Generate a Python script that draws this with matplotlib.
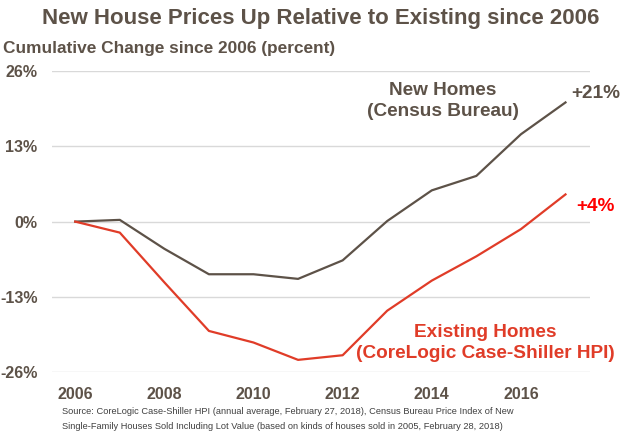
import matplotlib.pyplot as plt

years = list(range(2006, 2018))
new_homes = [0, 0.3, -4.7, -9.1, -9.1, -9.9, -6.7, 0.1, 5.4, 7.9, 15.1, 20.6]
existing_homes = [0, -1.9, -10.5, -18.9, -20.9, -23.9, -23.1, -15.4, -10.2, -6.0, -1.3, 4.7]

y_ticks = [-26, -13, 0, 13, 26]
y_tick_labels = ["-26%", "-13%", "0%", "13%", "26%"]
x_ticks = [2006, 2008, 2010, 2012, 2014, 2016]

BROWN = "#5d5248"
RED = "#e03c28"

plt.rcParams['font.family'] = ['Liberation Sans', 'DejaVu Sans']

fig = plt.figure(figsize=(6.27, 4.45), dpi=100)
ax = fig.add_axes([0.083, 0.164, 0.858, 0.676])

ax.plot(years, new_homes, color=BROWN, lw=1.6, clip_on=False)
ax.plot(years, existing_homes, color=RED, lw=1.6, clip_on=False)

ax.set_ylim(-26, 26)
ax.set_xlim(2005.48, 2017.55)
ax.set_yticks(y_ticks)
ax.set_yticklabels(y_tick_labels)
ax.set_xticks(x_ticks)
ax.grid(axis='y', color='#d9d9d9', lw=1)
ax.set_axisbelow(True)
for s in ax.spines.values():
    s.set_visible(False)
ax.tick_params(length=0, labelsize=11.5, colors=BROWN)
ax.tick_params(axis='x', pad=10.5)
ax.tick_params(axis='y', pad=10.5)
for lbl in ax.get_xticklabels() + ax.get_yticklabels():
    lbl.set_fontweight('bold')

# annotations
ax.text(2014.25, 20.8, "New Homes\n(Census Bureau)", color=BROWN, fontsize=13.7,
        fontweight='bold', ha='center', va='center', linespacing=1.3)
ax.text(2017.12, 22.1, "+21%", color=BROWN, fontsize=13.7, fontweight='bold',
        ha='left', va='center')
ax.text(2017.25, 2.6, "+4%", color='#ff0000', fontsize=13.7, fontweight='bold',
        ha='left', va='center')
ax.text(2015.21, -20.95, "Existing Homes\n(CoreLogic Case-Shiller HPI)", color=RED,
        fontsize=13.7, fontweight='bold', ha='center', va='center', linespacing=1.3)

fig.text(0.512, 0.958, "New House Prices Up Relative to Existing since 2006",
         color=BROWN, fontsize=16, fontweight='bold', ha='center', va='center')
fig.text(0.005, 0.892, "Cumulative Change since 2006 (percent)",
         color=BROWN, fontsize=12.4, fontweight='bold', ha='left', va='center')
fig.text(0.099, 0.058,
         "Source: CoreLogic Case-Shiller HPI (annual average, February 27, 2018), Census Bureau Price Index of New\n"
         "Single-Family Houses Sold Including Lot Value (based on kinds of houses sold in 2005, February 28, 2018)",
         color='#404040', fontsize=6.7, ha='left', va='center', linespacing=1.9)

fig.savefig("out.png", dpi=100)
